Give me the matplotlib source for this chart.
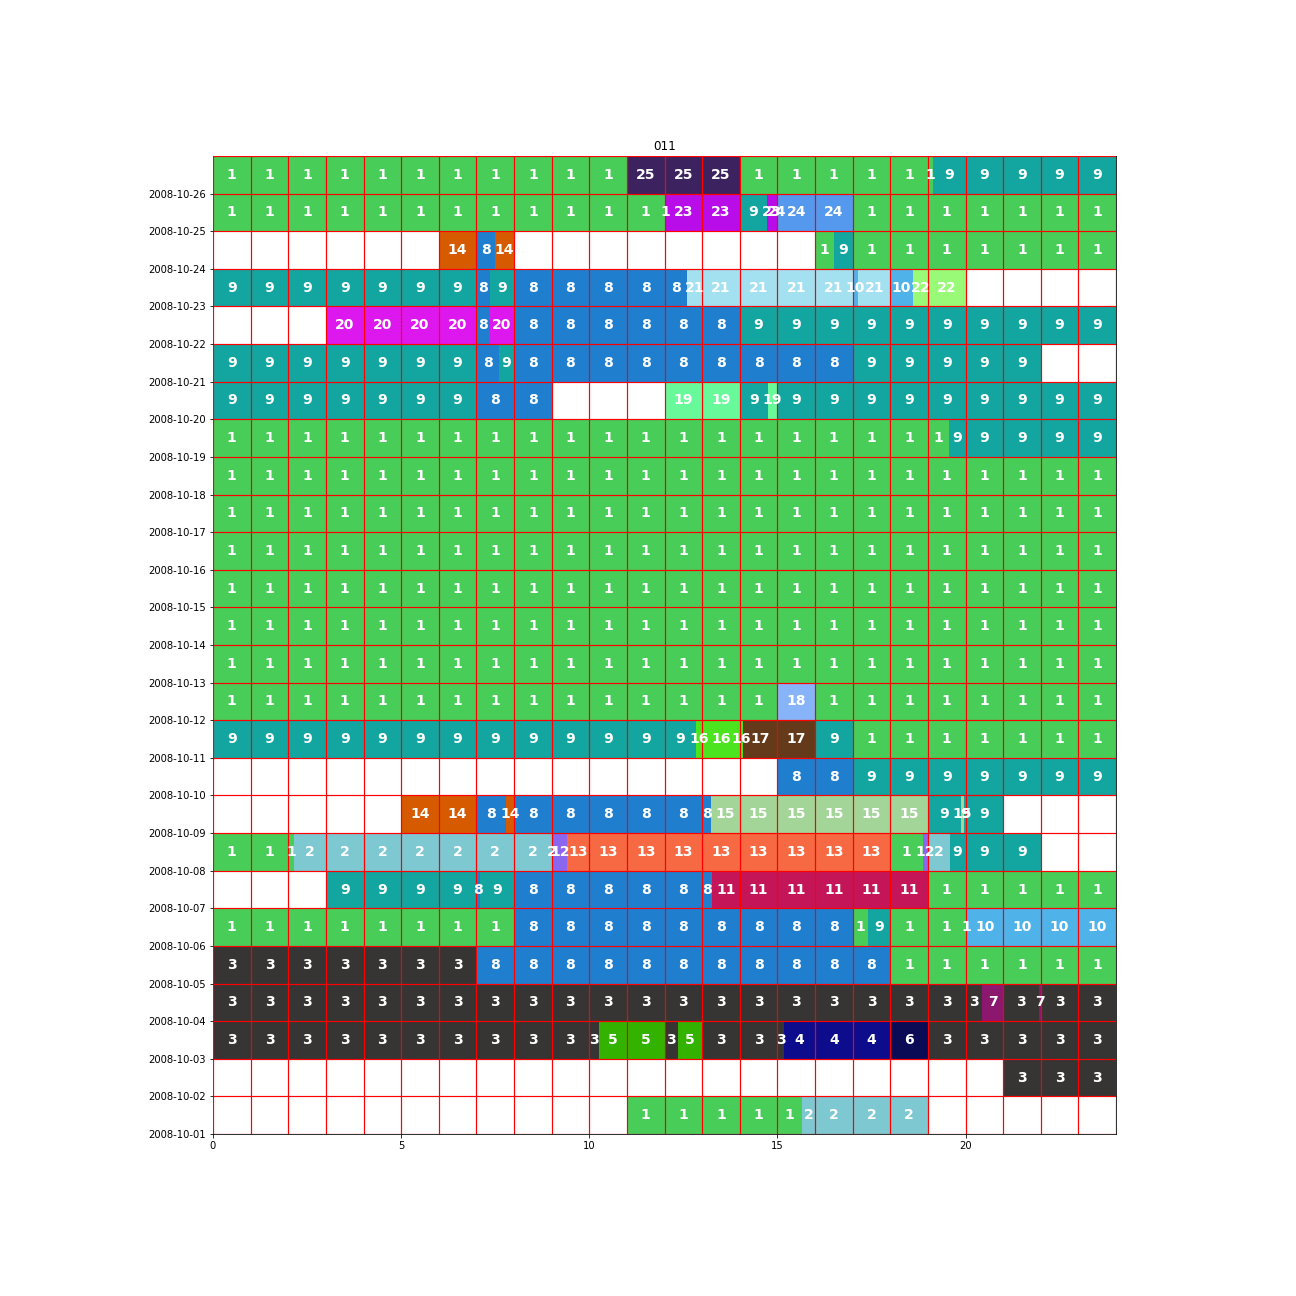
import math
import matplotlib
matplotlib.use("Agg")
import matplotlib.pyplot as plt

# days shown, bottom row first
dates = ["2008-10-%02d" % d for d in range(1, 27)]

# per day: segment start hour, end hour and activity label
starts = [
    [11, 15.65],
    [21],
    [0, 10.27, 12, 12.35, 13, 15.18, 18, 19],
    [0, 20.45, 21, 21.95, 22],
    [0, 7, 18],
    [0, 8, 17, 17.4, 18, 20.03],
    [3, 7, 7.1, 8, 13.27, 19],
    [0, 2.15, 9.03, 9.42, 18, 18.88, 19, 19.58],
    [5, 7, 7.8, 8, 13.24, 19, 19.87, 19.97],
    [15, 17],
    [0, 12.85, 14.08, 16, 17],
    [0, 15, 16],
    [0], [0], [0], [0], [0], [0],
    [0, 19.55],
    [0, 7, 12, 14, 14.75, 15],
    [0, 7, 7.6, 8, 17],
    [3, 7, 7.33, 8, 14],
    [0, 7, 7.35, 8, 12.6, 17, 17.15, 18, 18.6],
    [6, 7, 7.5, 16, 16.5, 17],
    [0, 12.03, 14, 14.73, 14.98, 17],
    [0, 11, 14, 19.13],
]
ends = [
    [15.65, 19],
    [24],
    [10.27, 12, 12.35, 13, 15.18, 18, 19, 24],
    [20.45, 21, 21.95, 22, 24],
    [7, 18, 24],
    [8, 17, 17.4, 18, 20.03, 24],
    [7, 7.1, 8, 13.27, 19, 24],
    [2.15, 9.03, 9.42, 18, 18.88, 19, 19.58, 22],
    [7, 7.8, 8, 13.24, 19, 19.87, 19.97, 21],
    [17, 24],
    [12.85, 14.08, 16, 17, 24],
    [15, 16, 24],
    [24], [24], [24], [24], [24], [24],
    [19.55, 24],
    [7, 9, 14, 14.75, 15, 24],
    [7, 7.6, 8, 17, 22],
    [7, 7.33, 8, 14, 24],
    [7, 7.35, 8, 12.6, 17, 17.15, 18, 18.6, 20],
    [7, 7.5, 8, 16.5, 17, 24],
    [12.03, 14, 14.73, 14.98, 17, 24],
    [11, 14, 19.13, 24],
]
labels = [
    [1, 2],
    [3],
    [3, 5, 3, 5, 3, 4, 6, 3],
    [3, 7, 3, 7, 3],
    [3, 8, 1],
    [1, 8, 1, 9, 1, 10],
    [9, 8, 9, 8, 11, 1],
    [1, 2, 12, 13, 1, 12, 2, 9],
    [14, 8, 14, 8, 15, 9, 15, 9],
    [8, 9],
    [9, 16, 17, 9, 1],
    [1, 18, 1],
    [1], [1], [1], [1], [1], [1],
    [1, 9],
    [9, 8, 19, 9, 19, 9],
    [9, 8, 9, 8, 9],
    [20, 8, 20, 8, 9],
    [9, 8, 9, 8, 21, 10, 21, 10, 22],
    [14, 8, 14, 1, 9, 1],
    [1, 23, 9, 23, 24, 1],
    [1, 25, 1, 9],
]

label_colors = {
    1: "#47cd58", 2: "#7ec8d2", 3: "#373534", 4: "#0c0c8c", 5: "#33b300",
    6: "#0a0a55", 7: "#8b176f", 8: "#1f7fce", 9: "#13a5a0", 10: "#4fb2e8",
    11: "#c41559", 12: "#8b66ee", 13: "#f66942", 14: "#d65b00", 15: "#a3d598",
    16: "#4ce41e", 17: "#653a1b", 18: "#87b4f8", 19: "#68fa9a", 20: "#dd18ee",
    21: "#a3e0f0", 22: "#99fa77", 23: "#b80ce8", 24: "#5599ee", 25: "#3c2360",
}

fig = plt.figure(figsize=(18, 18), dpi=72)
ax = fig.add_axes([213 / 1296, 162 / 1296, 903 / 1296, 978 / 1296])

for row, (ss, ee, ll) in enumerate(zip(starts, ends, labels)):
    for s, e, lab in zip(ss, ee, ll):
        # one box per hour cell the segment touches
        for h in range(math.floor(s), math.ceil(e)):
            a, b = max(s, h), min(e, h + 1)
            if b - a <= 0:
                continue
            ax.barh(row, b - a, left=a, height=1, align="edge",
                    color=label_colors[lab], linewidth=0)
            ax.text((a + b) / 2, row + 0.5, str(lab), color="white",
                    fontsize=14, fontweight="bold", ha="center", va="center")

ax.set_xlim(0, 24)
ax.set_ylim(0, 26)
ax.set_xticks([0, 5, 10, 15, 20])
ax.set_xticks(range(25), minor=True)
ax.set_yticks(range(26))
ax.set_yticklabels(dates)
ax.set_yticks(range(27), minor=True)
ax.tick_params(which="minor", length=0)
ax.grid(which="both", color="red", linewidth=1.2)
ax.set_axisbelow(False)
ax.set_title("011")

fig.savefig("out.png", dpi=72)
